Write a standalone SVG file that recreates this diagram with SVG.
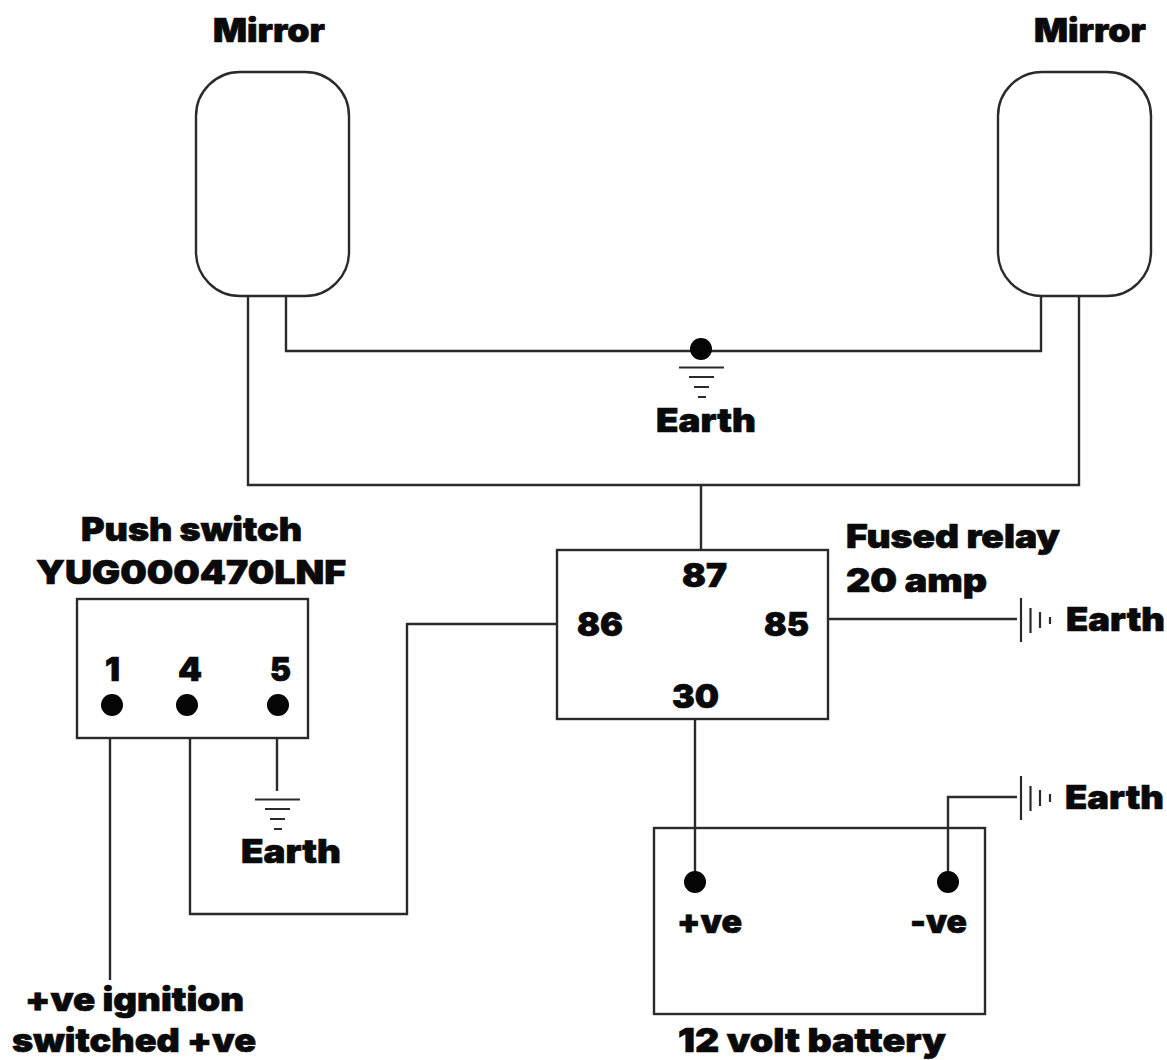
<svg xmlns="http://www.w3.org/2000/svg" width="1167" height="1060" viewBox="0 0 1167 1060">
<style>
text{font-family:Inter,"Liberation Sans",sans-serif;font-weight:900;font-size:33px;fill:#0a0a0a;stroke:#0a0a0a;stroke-width:0.7}
.w{fill:none;stroke:#2a2a2a;stroke-width:2.4}
.b{fill:#fff;stroke:#2a2a2a;stroke-width:2.4}
.o{fill:none;stroke:#2a2a2a;stroke-width:2.4}
.g{fill:none;stroke:#2a2a2a;stroke-width:2.2}
.d{fill:#050505}
</style>
<rect width="1167" height="1060" fill="#fff"/>
<g id="connectors">
<path class="w" d="M286 295V351H1041V295"/>
<path class="w" d="M248 295V485H1079V293"/>
<path class="w" d="M701 485V550"/>
<path class="w" d="M557 624H407V914H190V739"/>
<path class="w" d="M110 739V980"/>
<path class="w" d="M277 737V791"/>
<path class="w" d="M828 619H1017"/>
<path class="w" d="M695 719V882"/>
<path class="w" d="M948 882V797H1017"/>
</g>
<g id="mirror-left"><rect class="b" x="196" y="72" width="153" height="224" rx="44"/><text x="213" y="42" textLength="112" lengthAdjust="spacingAndGlyphs">Mirror</text></g>
<g id="mirror-right"><rect class="b" x="998" y="72" width="153" height="224" rx="44"/><text x="1034" y="42" textLength="112" lengthAdjust="spacingAndGlyphs">Mirror</text></g>
<g id="earth-top"><circle class="d" cx="701" cy="349" r="11"/><path class="g" d="M679 367.500H724M689 377H714M694 387H709M698 397H706"/><text x="656" y="432" textLength="100" lengthAdjust="spacingAndGlyphs">Earth</text></g>
<g id="relay"><rect class="o" x="557" y="550" width="271" height="169"/>
<text x="682" y="587" textLength="45" lengthAdjust="spacingAndGlyphs">87</text>
<text x="577" y="636" textLength="46" lengthAdjust="spacingAndGlyphs">86</text>
<text x="764" y="636" textLength="45" lengthAdjust="spacingAndGlyphs">85</text>
<text x="672" y="708" textLength="47" lengthAdjust="spacingAndGlyphs">30</text>
<text x="846" y="548" textLength="214" lengthAdjust="spacingAndGlyphs">Fused relay</text>
<text x="846" y="592" textLength="141" lengthAdjust="spacingAndGlyphs">20 amp</text></g>
<g id="switch"><rect class="b" x="77" y="599" width="231" height="139"/>
<text x="81" y="541" textLength="221" lengthAdjust="spacingAndGlyphs">Push switch</text>
<text x="36" y="584" textLength="310" lengthAdjust="spacingAndGlyphs">YUG000470LNF</text>
<text x="105" y="681" textLength="15" lengthAdjust="spacingAndGlyphs">1</text>
<text x="178" y="681" textLength="24" lengthAdjust="spacingAndGlyphs">4</text>
<text x="270" y="681" textLength="21" lengthAdjust="spacingAndGlyphs">5</text>
<circle class="d" cx="112" cy="705" r="11"/><circle class="d" cx="187" cy="705" r="11"/><circle class="d" cx="278" cy="705" r="11"/></g>
<g id="earth-switch"><path class="g" d="M255 799.500H300M265 809H290M270 819H285M274 829H282"/><text x="241" y="863" textLength="100" lengthAdjust="spacingAndGlyphs">Earth</text></g>
<g id="earth-relay"><path class="g" d="M1021 598V642M1030.500 608V633M1040 612V628M1050 617V624"/><text x="1066" y="631" textLength="99" lengthAdjust="spacingAndGlyphs">Earth</text></g>
<g id="earth-battery"><path class="g" d="M1021 776V820M1030.500 786V811M1040 790V806M1050 794V802"/><text x="1065" y="809" textLength="99" lengthAdjust="spacingAndGlyphs">Earth</text></g>
<g id="battery"><rect class="o" x="654" y="828" width="331" height="186"/>
<circle class="d" cx="695" cy="882" r="11"/><circle class="d" cx="948" cy="882" r="11"/>
<text x="677" y="933" textLength="65" lengthAdjust="spacingAndGlyphs">+ve</text>
<text x="910" y="933" textLength="57" lengthAdjust="spacingAndGlyphs">-ve</text>
<text x="678" y="1052" textLength="268" lengthAdjust="spacingAndGlyphs">12 volt battery</text></g>
<g id="ignition"><text x="25" y="1011" textLength="219" lengthAdjust="spacingAndGlyphs">+ve ignition</text>
<text x="12" y="1052" textLength="244" lengthAdjust="spacingAndGlyphs">switched +ve</text></g>
</svg>
